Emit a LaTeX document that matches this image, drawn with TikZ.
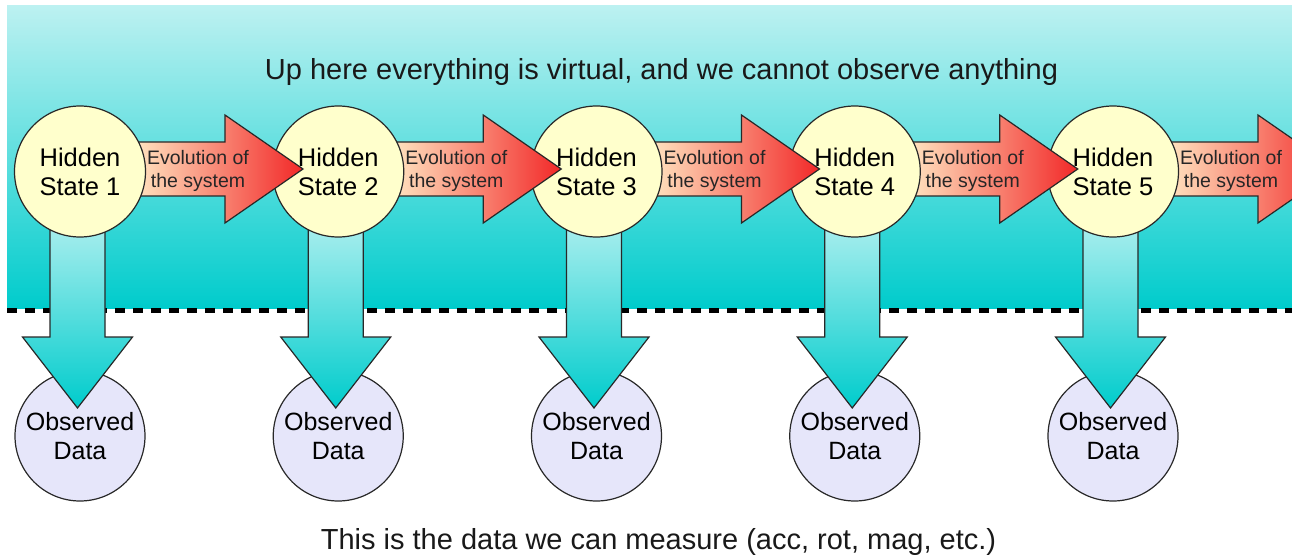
\documentclass[tikz,border=0pt]{standalone}
\usepackage{fontspec}
\setmainfont{Liberation Sans}
\usetikzlibrary{calc}
\definecolor{bgtop}{RGB}{188,241,241}
\definecolor{bgbot}{RGB}{0,204,204}
\definecolor{hidfill}{RGB}{255,255,204}
\definecolor{obsfill}{RGB}{230,230,250}
\definecolor{evoL}{RGB}{255,228,192}
\definecolor{evoR}{RGB}{242,40,40}
\definecolor{obsT}{RGB}{168,238,238}
\definecolor{obsB}{RGB}{0,204,204}
\definecolor{edgecol}{RGB}{40,40,40}
\begin{document}
\begin{tikzpicture}[x=1pt,y=-1pt,
  hidden/.style={circle,draw=edgecol,line width=1.2pt,fill=hidfill,minimum size=131pt,inner sep=0pt,align=center,font=\fontsize{25.5}{29}\selectfont},
  observed/.style={circle,draw=edgecol,line width=1.2pt,fill=obsfill,minimum size=130pt,inner sep=0pt,align=center,font=\fontsize{25}{29}\selectfont},
  evo/.style={draw=edgecol,line width=1.2pt,line join=miter,left color=evoL,right color=evoR},
  obsarrow/.style={draw=edgecol,line width=1.2pt,line join=miter,top color=obsT,bottom color=obsB},
  evotext/.style={align=center,font=\fontsize{19.5}{23}\selectfont,text=black!85},
  caption/.style={font=\fontsize{29}{33}\selectfont,text=black!90},
]
\useasboundingbox (0,0) rectangle (1292,556);
\clip (0,0) rectangle (1292,556);
% background
\fill[top color=bgtop,bottom color=bgbot] (7,6) rectangle (1292,308);
\coordinate (dl) at (7,310.5);
\coordinate (dr) at (1292,310.5);
\draw[line width=5pt,dash pattern=on 10pt off 8pt] (dl) -- (dr);
% caption texts
\node[caption] (top) at (661.5,72) {Up here everything is virtual, and we cannot observe anything};
\node[caption] (bottom) at (658.5,542) {This is the data we can measure (acc, rot, mag, etc.)};
% centre coordinates of hidden states
\foreach \i in {1,...,5}{
  \pgfmathsetmacro\cx{80+258.25*(\i-1)}
  \coordinate (p\i) at (\cx,171.5);
}
% observed data
\foreach \i in {1,...,5}{
  \node[observed] (o\i) at ($(p\i)+(0,264.5)$) {Observed\\Data};
}
% observation arrows
\foreach \i in {1,...,5}{
  \draw[obsarrow] ($(p\i)+(-30,53.5)$) -- ($(p\i)+(25,53.5)$) -- ($(p\i)+(25,165.5)$)
     -- ($(p\i)+(52.5,165.5)$) -- ($(p\i)+(-2.5,236.5)$) -- ($(p\i)+(-57.5,165.5)$)
     -- ($(p\i)+(-30,165.5)$) -- cycle;
}
% evolution arrows and hidden states
\foreach \i in {5,4,3,2,1}{
  \draw[evo] ($(p\i)+(55,-29.5)$) -- ($(p\i)+(145,-29.5)$) -- ($(p\i)+(145,-56.5)$)
     -- ($(p\i)+(223,-2.5)$) -- ($(p\i)+(145,51.5)$) -- ($(p\i)+(145,24.5)$)
     -- ($(p\i)+(55,24.5)$) -- cycle;
  \node[evotext] (e\i) at ($(p\i)+(118,-1)$) {Evolution of\\the system};
  \node[hidden] (h\i) at (p\i) {Hidden\\State \i};
}
\end{tikzpicture}
\end{document}
